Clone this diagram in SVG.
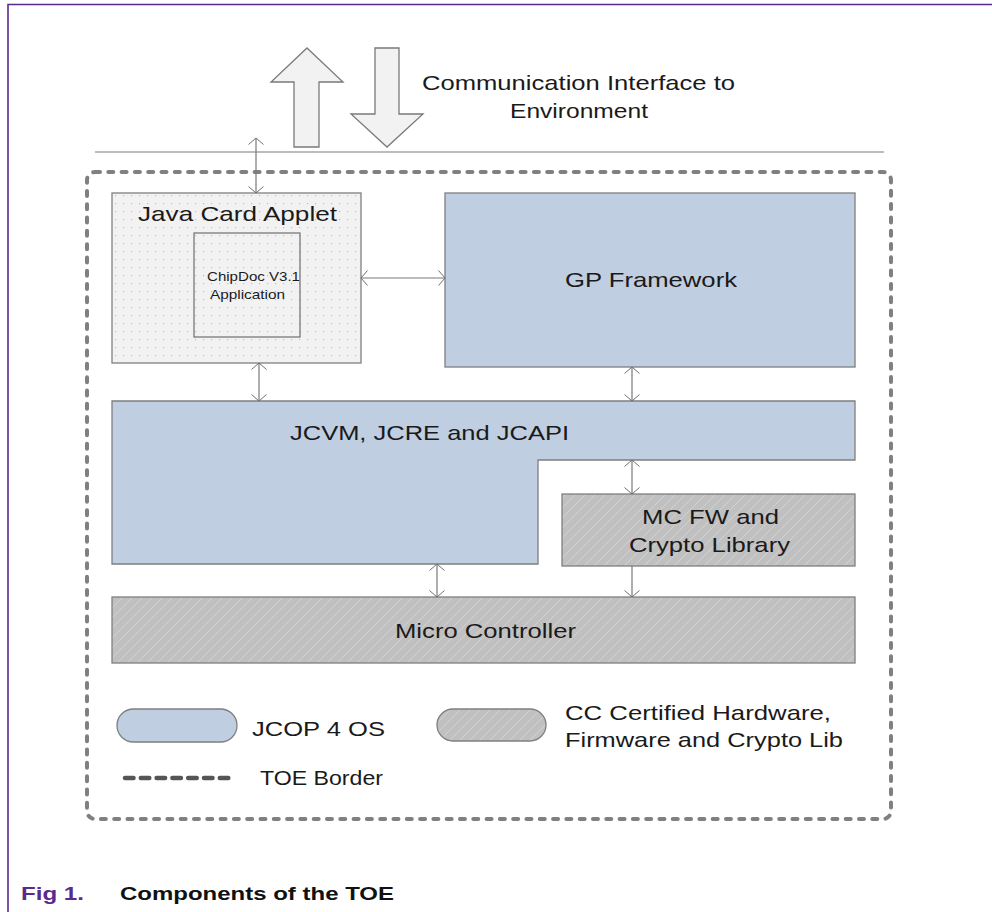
<svg xmlns="http://www.w3.org/2000/svg" width="992" height="912" viewBox="0 0 992 912">
<defs>
<style>
.t{font-family:"Liberation Sans",Arial,sans-serif;font-size:21px;fill:#1a1a1a}
.s{font-family:"Liberation Sans",Arial,sans-serif;font-size:13.5px;fill:#1a1a1a}
.cap{font-family:"Liberation Sans",Arial,sans-serif;font-size:18px;font-weight:bold}
.blue{fill:#bfcee1;stroke:#7f7f7f;stroke-width:1.3}
.hw{fill:url(#hatch);stroke:#7f7f7f;stroke-width:1.3}
.con{stroke:#7a7a7a;stroke-width:1.2;fill:none}
.big{fill:#f2f2f2;stroke:#7a7a7a;stroke-width:1.3}
</style>
<pattern id="hatch" patternUnits="userSpaceOnUse" width="10" height="10">
<rect width="10" height="10" fill="#c0c0c0"/>
<path d="M0,10 L10,0 M-1,1 L1,-1 M9,11 L11,9" stroke="#d2d2d2" stroke-width="1"/>
</pattern>
<pattern id="dots" patternUnits="userSpaceOnUse" width="8" height="8">
<rect width="8" height="8" fill="#f2f2f2"/>
<rect x="3" y="3" width="1.2" height="1.2" fill="#bdbdbd"/>
</pattern>
<marker id="ah" viewBox="-8 -8 9 16" refX="0" refY="0" markerWidth="9" markerHeight="16" markerUnits="userSpaceOnUse" orient="auto-start-reverse">
<path d="M-6.5,-7.5 L0,0 L-6.5,7.5" fill="none" stroke="#707070" stroke-width="1"/>
</marker>
</defs>
<rect width="992" height="912" fill="#ffffff"/>
<g id="frame">
<path d="M8,912 V4.5 H992" fill="none" stroke="#5a2a8c" stroke-width="1.6"/>
</g>
<g id="interface">
<polygon class="big" points="307,48 343,82 319,82 319,147 294,147 294,82 271,82"/>
<polygon class="big" points="375,48 399,48 399,114 423,114 387,147 351,114 375,114"/>
<text class="t" x="422" y="90" textLength="313" lengthAdjust="spacingAndGlyphs">Communication Interface to</text>
<text class="t" x="510" y="118" textLength="138" lengthAdjust="spacingAndGlyphs">Environment</text>
<line x1="95" y1="152" x2="884" y2="152" stroke="#a6a6a6" stroke-width="1.5"/>
</g>
<g id="toe-border">
<rect x="87" y="172" width="804" height="647" rx="8" fill="none" stroke="#808080" stroke-width="4" stroke-linecap="round" stroke-dasharray="5 8.3"/>
</g>
<g id="java-card-applet">
<rect x="112" y="193" width="249" height="170" fill="url(#dots)" stroke="#7f7f7f" stroke-width="1.3"/>
<text class="t" x="138" y="221" textLength="199" lengthAdjust="spacingAndGlyphs">Java Card Applet</text>
</g>
<g id="chipdoc">
<rect x="194" y="233" width="106" height="104" fill="none" stroke="#6f6f6f" stroke-width="1.2"/>
<text class="s" x="207" y="281" textLength="93" lengthAdjust="spacingAndGlyphs">ChipDoc V3.1</text>
<text class="s" x="210" y="299" textLength="75" lengthAdjust="spacingAndGlyphs">Application</text>
</g>
<g id="gp-framework">
<rect class="blue" x="445" y="193" width="410" height="174"/>
<text class="t" x="565" y="287" textLength="172" lengthAdjust="spacingAndGlyphs">GP Framework</text>
</g>
<g id="jcvm">
<path class="blue" d="M112,401 H855 V460 H538 V564 H112 Z"/>
<text class="t" x="290" y="440" textLength="279" lengthAdjust="spacingAndGlyphs">JCVM, JCRE and JCAPI</text>
</g>
<g id="mc-fw">
<rect class="hw" x="562" y="494" width="293" height="72"/>
<text class="t" x="642" y="524" textLength="137" lengthAdjust="spacingAndGlyphs">MC FW and</text>
<text class="t" x="629" y="552" textLength="161" lengthAdjust="spacingAndGlyphs">Crypto Library</text>
</g>
<g id="micro-controller">
<rect class="hw" x="112" y="597" width="743" height="66"/>
<text class="t" x="395" y="638" textLength="181" lengthAdjust="spacingAndGlyphs">Micro Controller</text>
</g>
<g id="connectors">
<line class="con" x1="256" y1="138" x2="256" y2="193" marker-start="url(#ah)" marker-end="url(#ah)"/>
<line class="con" x1="361" y1="278" x2="445" y2="278" marker-start="url(#ah)" marker-end="url(#ah)"/>
<line class="con" x1="259" y1="363" x2="259" y2="401" marker-start="url(#ah)" marker-end="url(#ah)"/>
<line class="con" x1="632" y1="367" x2="632" y2="401" marker-start="url(#ah)" marker-end="url(#ah)"/>
<line class="con" x1="632" y1="460" x2="632" y2="494" marker-start="url(#ah)" marker-end="url(#ah)"/>
<line class="con" x1="437" y1="564" x2="437" y2="597" marker-start="url(#ah)" marker-end="url(#ah)"/>
<line class="con" x1="632" y1="566" x2="632" y2="597" marker-end="url(#ah)"/>
</g>
<g id="legend">
<rect class="blue" x="117" y="709" width="120" height="33" rx="16.5"/>
<text class="t" x="252" y="736" textLength="133" lengthAdjust="spacingAndGlyphs">JCOP 4 OS</text>
<rect class="hw" x="437" y="709" width="109" height="32" rx="16"/>
<text class="t" x="565" y="720" textLength="266" lengthAdjust="spacingAndGlyphs">CC Certified Hardware,</text>
<text class="t" x="565" y="747" textLength="278" lengthAdjust="spacingAndGlyphs">Firmware and Crypto Lib</text>
<line x1="125" y1="778" x2="231" y2="778" stroke="#555555" stroke-width="4.5" stroke-linecap="round" stroke-dasharray="8.5 7.3"/>
<text class="t" x="260" y="785" textLength="123" lengthAdjust="spacingAndGlyphs">TOE Border</text>
</g>
<g id="caption">
<text class="cap" x="21" y="900" fill="#5a2a8c" textLength="63" lengthAdjust="spacingAndGlyphs">Fig 1.</text>
<text class="cap" x="120" y="900" fill="#111111" textLength="274" lengthAdjust="spacingAndGlyphs">Components of the TOE</text>
</g>
</svg>
